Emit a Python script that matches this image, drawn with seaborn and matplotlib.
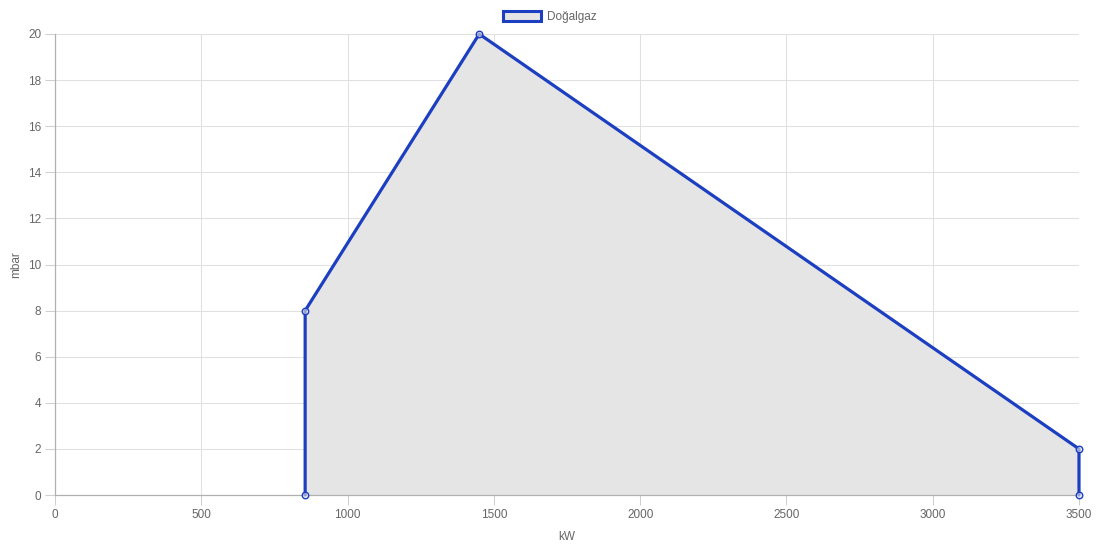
import matplotlib
matplotlib.use("Agg")
import matplotlib.pyplot as plt
import seaborn as sns
import pandas as pd
from matplotlib.patches import Patch

power_kw = [855, 855, 1450, 3500, 3500]
pressure_mbar = [0, 8, 20, 2, 0]
series_name = "Doğalgaz"
x_ticks = [0, 500, 1000, 1500, 2000, 2500, 3000, 3500]
y_ticks = [0, 2, 4, 6, 8, 10, 12, 14, 16, 18, 20]

df = pd.DataFrame({"kW": power_kw, "mbar": pressure_mbar, "series": series_name})

sns.set_theme(style="white")
plt.rcParams['font.family'] = ['Liberation Sans', 'DejaVu Sans']

fig = plt.figure(figsize=(11.1, 5.59), dpi=100)
ax = fig.add_axes([55/1110, 64/559, 1024/1110, 461/559])

line_color = "#1c3fc2"
fill_color = "#e5e5e5"

ax.fill_between(df["kW"], df["mbar"], 0, color=fill_color, zorder=1, linewidth=0)
sns.lineplot(data=df, x="kW", y="mbar", sort=False, estimator=None, ax=ax,
             color=line_color, linewidth=2.3, zorder=3, legend=False)
sc = ax.scatter(df["kW"], df["mbar"], s=22, facecolors=(0.9, 0.9, 0.9, 0.6),
                edgecolors=line_color, linewidths=1.0, zorder=4, clip_on=False)
for ln in ax.lines:
    ln.set_clip_on(False)

ax.set_xlim(0, 3500)
ax.set_ylim(0, 20)
ax.set_xticks(x_ticks)
ax.set_yticks(y_ticks)
ax.grid(True, color="#e0e0e0", linewidth=0.75, zorder=0)
ax.set_axisbelow(True)
for s in ["top", "right"]:
    ax.spines[s].set_visible(False)
for s in ["left", "bottom"]:
    ax.spines[s].set_color("#b0b0b0")
    ax.spines[s].set_linewidth(0.9)
ax.tick_params(axis="both", which="both", length=7, color="#cfcfcf", width=0.75,
               labelsize=8.5, labelcolor="#666666", pad=3, direction="out",
               left=True, bottom=True)

ax.set_xlabel("kW", fontsize=8.5, color="#666666", labelpad=7)
ax.set_ylabel("mbar", fontsize=8.5, color="#666666", labelpad=4)

handle = Patch(facecolor=fill_color, edgecolor=line_color, linewidth=2.2, label=series_name)
leg = fig.legend(handles=[handle], loc="center", bbox_to_anchor=(550/1110, 1 - 17/559),
                 frameon=False, fontsize=8.5, handlelength=3.2, handleheight=0.9,
                 handletextpad=0.5)
for t in leg.get_texts():
    t.set_color("#666666")

fig.savefig("out.png", dpi=100)
